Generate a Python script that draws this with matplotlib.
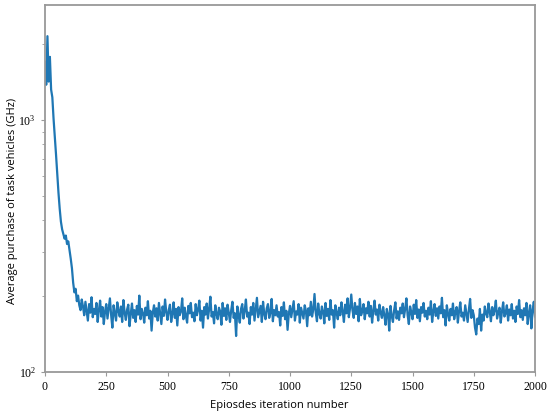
import numpy as np
import matplotlib
matplotlib.use("Agg")
import matplotlib.pyplot as plt

# episode 0..150, step 5 (fast decay part)
early_values = [1700, 1380, 2150, 1420, 1780, 1320, 1230, 1010, 860, 730,
                610, 515, 445, 395, 368, 352, 338, 348, 322, 330,
                305, 282, 258, 226, 207, 214, 191, 201, 184, 176, 194]

# episode 155..2000, step 5 (plateau)
late_values = [
    182, 168, 190, 175, 160, 186, 172, 198, 165, 178,
    170, 188, 158, 176, 192, 166, 181, 155, 174, 186,
    163, 179, 196, 168, 150, 184, 171, 160, 189, 175,
    166, 182, 158, 193, 172, 161, 177, 185, 152, 170,
    187, 164, 176, 158, 183, 169, 201, 162, 178, 171,
    157, 180, 168, 191, 163, 175, 146, 172, 184, 166,
    179, 160, 188, 170, 155, 182, 167, 194, 173, 161,
    176, 185, 158, 170, 189, 164, 178, 153, 181, 168,
    174, 196, 162, 180, 167, 157, 183, 171, 188, 165,
    172, 159, 186, 168, 177, 192, 160, 175, 150, 181,
    169, 187, 163, 178, 199, 166, 173, 156, 184, 170,
    162, 180, 174, 154, 188, 167, 179, 161, 185, 172,
    158, 176, 190, 164, 171, 139, 182, 168, 157, 178,
    186, 163, 175, 194, 166, 172, 155, 181, 169, 188,
    160, 177, 197, 165, 174, 183, 158, 190, 170, 162,
    179, 186, 164, 172, 195, 159, 176, 168, 184, 166,
    173, 153, 181, 167, 189, 162, 175, 147, 170, 183,
    165, 178, 191, 160, 174, 169, 186, 157, 180, 171,
    163, 184, 175, 152, 179, 168, 190, 166, 177, 204,
    172, 159, 187, 170, 163, 182, 174, 156, 188, 167,
    178, 161, 193, 169, 176, 150, 184, 172, 162, 180,
    168, 189, 174, 158, 185, 171, 196, 165, 179, 203,
    176, 164, 188, 170, 182, 159, 195, 168, 174, 186,
    162, 179, 171, 190, 166, 183, 157, 175, 192, 169,
    177, 160, 185, 172, 164, 181, 168, 154, 178, 170,
    146, 183, 167, 158, 176, 189, 163, 174, 161, 180,
    171, 187, 165, 178, 196, 168, 155, 182, 173, 162,
    185, 170, 193, 164, 177, 159, 181, 172, 188, 166,
    175, 162, 180, 169, 191, 158, 174, 186, 167, 179,
    163, 182, 171, 197, 165, 176, 153, 184, 170, 160,
    178, 168, 187, 162, 173, 181, 157, 175, 189, 166,
    172, 160, 184, 170, 158, 177, 195, 164, 176, 168,
    150, 141, 163, 155, 178, 146, 169, 160, 182, 171,
    165, 187, 174, 159, 181, 168, 176, 192, 163, 172,
    180, 157, 174, 189, 166, 171, 184, 160, 177, 168,
    186, 163, 175, 158, 182, 170, 193, 165, 176, 161,
    179, 168, 188, 155, 172, 184, 149, 176, 190, 166,
]

values = early_values + late_values
episodes = np.arange(0, 5 * len(values), 5)

plt.rcParams['mathtext.fontset'] = 'stix'

fig = plt.figure(figsize=(5.5, 4.12), dpi=100)
ax = fig.add_axes([0.0818, 0.097, 0.891, 0.891])
ax.plot(episodes, values, color='#1f77b4', linewidth=1.6)
ax.set_yscale('log')
ax.set_xlim(0, 2000)
ax.set_ylim(100, 2860)
ax.set_xticks([0, 250, 500, 750, 1000, 1250, 1500, 1750, 2000])

for s in ax.spines.values():
    s.set_color('#999999')
    s.set_linewidth(1.3)
ax.tick_params(which='both', colors='#999999', labelcolor='black', length=3)
ax.tick_params(which='minor', length=2)
for lab in ax.get_xticklabels() + ax.get_yticklabels():
    lab.set_family('Liberation Serif')
    lab.set_fontsize(8.5)

ax.set_xlabel('Epiosdes iteration number', family='Open Sans', fontsize=8)
ax.set_ylabel('Average purchase of task vehicles (GHz)', family='Open Sans', fontsize=8,
              labelpad=0)
ax.xaxis.set_label_coords(0.478, -0.075)
ax.yaxis.label.set_y(0.465)

fig.savefig('out.png', dpi=100)
